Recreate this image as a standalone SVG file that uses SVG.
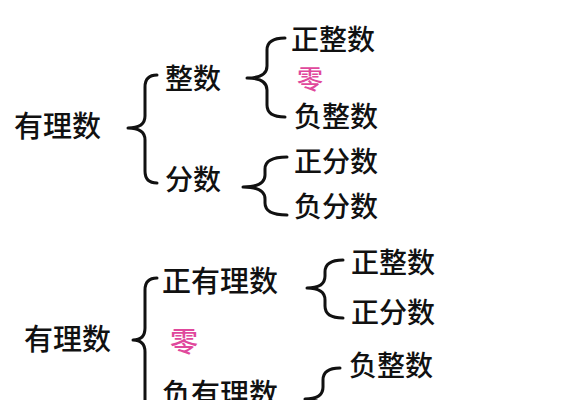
<svg xmlns="http://www.w3.org/2000/svg" width="567" height="400" viewBox="0 0 567 400">
<style>
text{font-family:"Noto Sans CJK SC","Noto Sans",sans-serif;font-size:28px;font-weight:500;fill:#111}
.big{font-size:29px}
.zero{fill:#e0489c;font-size:26px}
.brace{fill:none;stroke:#111;stroke-width:3;stroke-linecap:round;stroke-linejoin:round}
</style>
<rect width="567" height="400" fill="#fff"/>
<g id="connectors">
<path class="brace" d="M157,75 Q145,75 145,87 L145,116 Q145,128 128,128 Q145,128 145,140 L145,171 Q145,183 157,183"/>
<path class="brace" d="M285,38 Q267,38 267,50 L267,66 Q267,78 247,78 Q267,78 267,90 L267,105 Q267,117 285,117"/>
<path class="brace" d="M287,157 Q265,157 265,169 L265,175 Q265,187 243,187 Q265,187 265,199 L265,203 Q265,215 287,215"/>
<path class="brace" d="M157,278 Q145,278 145,290 L145,328 Q145,340 133,340 Q145,340 145,352 L145,408 Q145,420 157,420"/>
<path class="brace" d="M343,260 Q325,260 325,272 L325,276 Q325,288 307,288 Q325,288 325,300 L325,306 Q325,318 343,318"/>
<path class="brace" d="M340,368 Q323,368 323,380 L323,387 Q323,399 305,399 Q323,399 323,411 L323,420"/>
</g>
<g id="n-rational1"><text class="big" x="14" y="137">有理数</text></g>
<g id="n-integer"><text x="165" y="89">整数</text></g>
<g id="n-fraction"><text x="165" y="190">分数</text></g>
<g id="n-posint1"><text x="291" y="50">正整数</text></g>
<g id="n-zero1"><text class="zero" x="297" y="89">零</text></g>
<g id="n-negint1"><text x="294" y="127">负整数</text></g>
<g id="n-posfrac1"><text x="294" y="172">正分数</text></g>
<g id="n-negfrac1"><text x="294" y="217">负分数</text></g>
<g id="n-rational2"><text class="big" x="24" y="350">有理数</text></g>
<g id="n-posrat"><text class="big" x="162" y="292">正有理数</text></g>
<g id="n-zero2"><text class="zero" x="170" y="352" style="font-size:28px">零</text></g>
<g id="n-negrat"><text class="big" x="162" y="405">负有理数</text></g>
<g id="n-posint2"><text x="351" y="273">正整数</text></g>
<g id="n-posfrac2"><text x="351" y="323">正分数</text></g>
<g id="n-negint2"><text x="349" y="376">负整数</text></g>
</svg>
